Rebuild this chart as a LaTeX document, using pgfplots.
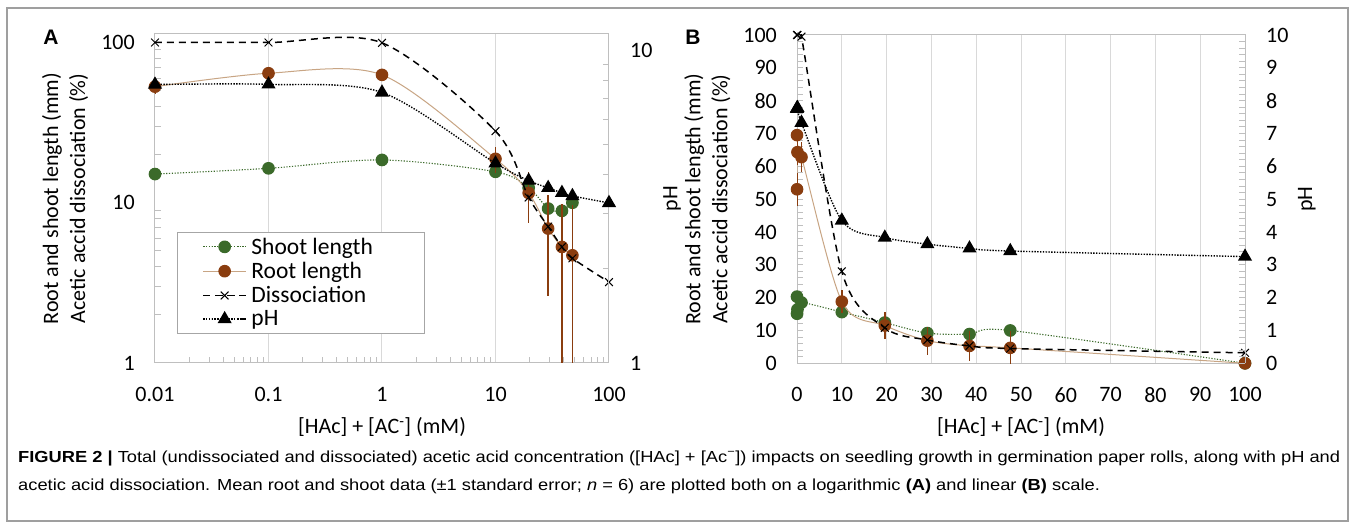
\documentclass[border=0pt]{standalone}
\usepackage{pgfplots}
\pgfplotsset{compat=1.18}
\usepackage{pgfplotstable}
\usepackage{graphicx}
\usepackage{fontspec}
\setmainfont{Carlito}
\newfontfamily\capfont{Liberation Sans}
\newfontfamily\panelfont{Liberation Sans}

\definecolor{shootc}{HTML}{3B6A2A}
\definecolor{rootc}{HTML}{8A3D0F}
\definecolor{rootl}{HTML}{C8A584}
\definecolor{axisc}{HTML}{BFBFBF}
\definecolor{gridc}{HTML}{D9D9D9}

% Panel A (log): lower root errors clipped to stay positive
\pgfplotstableread{
x     shoot se  root rp  rm
0.01  15.1 0.8 53.0 5.0 5.0
0.1   16.4 0.8 64.3 4.0 4.0
1     18.5 0.8 62.8 4.5 4.5
10    15.6 0.8 18.8 3.5 3.5
19.6  12.4 0.9 11.5 4.0 4.0
29.1   9.2 1.0  6.9 4.3 4.3
38.5   8.9 0.9  5.3 4.5 4.8
47.6  10.0 0.9  4.7 5.0 4.2
}\tabA
\pgfplotstableread{
x    dis  ph
0.01 100  7.77
0.1  100  7.78
1    99.5 7.33
10   28.0 4.35
19.6 10.8 3.83
29.1  7.1 3.63
38.5  5.3 3.50
47.6  4.5 3.42
100   3.2 3.25
}\chemA
% Panel B (linear)
\pgfplotstableread{
x     shoot se  root re
0     20.3 0.8 69.5 1.5
0.01  15.1 0.8 53.0 5.0
0.1   16.4 0.8 64.3 4.0
1     18.5 0.8 62.8 4.5
10    15.6 0.8 18.8 3.5
19.6  12.4 0.9 11.5 4.0
29.1   9.2 1.0  6.9 4.3
38.5   8.9 0.9  5.3 4.5
47.6  10.0 0.9  4.7 5.0
100    0.0 0.0  0.0 0.8
}\tabB
\pgfplotstableread{
x    dis  ph
0    100  7.75
0.01 100  7.77
0.1  100  7.78
1    99.5 7.33
10   28.0 4.35
19.6 10.8 3.83
29.1  7.1 3.63
38.5  5.3 3.50
47.6  4.5 3.42
100   3.2 3.25
}\chemB

\pgfplotsset{
  shootst/.style={shootc, dash pattern=on 1.2pt off 1.6pt, line width=1.1pt, smooth, mark=*, mark size=5.8pt, mark options={solid, fill=shootc, draw=shootc}},
  rootst/.style={rootl, solid, line width=1pt, smooth, mark=*, mark size=5.8pt, mark options={solid, fill=rootc, draw=rootc}},
  disst/.style={black, dash pattern=on 7pt off 5pt, line width=1.5pt, smooth, mark=x, mark size=5.5pt, mark options={solid, line width=1pt}},
  phst/.style={black, dash pattern=on 1.4pt off 1.4pt, line width=1.4pt, smooth, mark=triangle*, mark size=6.8pt, mark options={solid, fill=black}},
  base/.style={scale only axis, anchor=south west, clip mode=individual,
    /pgf/number format/assume math mode=true,
    axis line style={axisc, line width=1pt}, tick style={axisc, line width=1pt},
    major tick length=0pt, minor tick length=6pt, tick align=inside,
    ticklabel style={font=\fontsize{22}{26}\selectfont, inner sep=0pt, text=black},
    label style={font=\fontsize{22}{27}\selectfont, text=black},
    major grid style={gridc, line width=1pt}},
  legend image code/.code={\draw[mark repeat=2,mark phase=2,#1] plot coordinates {(0pt,0pt) (21.5pt,0pt) (43pt,0pt)};},
}
\newcommand\legtxt[1]{\makebox[146pt][l]{#1}}
\newsavebox\capboxA
\newdimen\capw

\begin{document}
\sbox\capboxA{\capfont\fontsize{16}{19}\selectfont\textbf{FIGURE 2 |} Total (undissociated and dissociated) acetic acid concentration ([HAc] + [Ac\textsuperscript{−}]) impacts on seedling growth in germination paper rolls, along with pH and}%
\capw=\wd\capboxA
\pgfmathsetmacro\capsc{1322pt/\capw}%
\begin{tikzpicture}
\useasboundingbox (0,0) rectangle (1355pt,527pt);
\fill[white] (0,0) rectangle (1355pt,527pt);
\draw[gray!75, line width=1.3pt] (7pt,6pt) rectangle (1348pt,519pt);

% ---------------- Panel A ----------------
\begin{axis}[base, at={(155pt,164pt)}, width=454pt, height=329pt,
  xmode=log, ymode=log, xmin=0.01, xmax=100, ymin=1, ymax=113,
  xtick={0.01,0.1,1,10,100}, xticklabels={0.01,0.1,1,10,100},
  minor xtick={0.02,0.03,0.04,0.05,0.06,0.07,0.08,0.09,0.2,0.3,0.4,0.5,0.6,0.7,0.8,0.9,2,3,4,5,6,7,8,9,20,30,40,50,60,70,80,90},
  ytick={1,10,100}, yticklabels={1,10,100},
  minor ytick={2,3,4,5,6,7,8,9,20,30,40,50,60,70,80,90},
  xmajorgrids, tick pos=left,
  xticklabel style={anchor=north, yshift=-24pt},
  yticklabel style={anchor=east, xshift=-20pt},
  ylabel={Root and shoot length (mm)\\Acetic accid dissociation (\%)},
  ylabel style={at={(axis description cs:-0.198,0.5)}, anchor=center, align=center},
  xlabel={[HAc] + [AC\textsuperscript{-}] (mM)},
  xlabel style={at={(axis description cs:0.5,-0.195)}, anchor=center},
]
\addplot[shootst, error bars/.cd, y dir=both, y explicit, error mark=none, error bar style={shootc, line width=1.2pt, solid}]
  table[x=x, y=shoot, y error=se] {\tabA};
\addplot[rootst, error bars/.cd, y dir=both, y explicit, error mark=none, error bar style={rootc, line width=1.4pt, solid}]
  table[x=x, y=root, y error plus=rp, y error minus=rm] {\tabA};
\addplot[disst] table[x=x, y=dis] {\chemA};
\end{axis}
\begin{axis}[base, at={(155pt,164pt)}, width=454pt, height=329pt,
  xmode=log, ymode=log, xmin=0.01, xmax=100, ymin=1, ymax=11.27,
  axis x line=none, axis y line*=right,
  ytick={1,10}, yticklabels={1,10}, minor ytick={2,3,4,5,6,7,8,9},
  yticklabel style={anchor=west, xshift=21pt},
  ylabel={pH}, ylabel style={at={(axis description cs:1.139,0.5)}, anchor=center},
  legend style={at={(0.0485,0.398)}, anchor=north west, draw=gray!70, line width=0.8pt, fill=white,
    font=\fontsize{23.5}{27}\selectfont, row sep=3.5pt, column sep=3pt, inner xsep=25pt, inner ysep=4pt,
    nodes={inner sep=1.5pt}},
  legend cell align=left,
]
\addlegendimage{shootst}\addlegendentry{\legtxt{Shoot length}}
\addlegendimage{rootst}\addlegendentry{\legtxt{Root length}}
\addlegendimage{disst}\addlegendentry{\legtxt{Dissociation}}
\addplot[phst] table[x=x, y=ph] {\chemA};
\addlegendentry{\legtxt{pH}}
\end{axis}
\node[anchor=center, font=\panelfont\bfseries\fontsize{21}{21}\selectfont] at (51pt,490pt) {A};

% ---------------- Panel B ----------------
\begin{axis}[base, at={(797pt,163.7pt)}, width=448pt, height=328.3pt,
  xmin=0, xmax=100, ymin=0, ymax=100,
  xtick={0,10,...,100}, ytick={0,10,...,100}, minor y tick num=4,
  major tick length=6pt, xtick style={draw=none},
  xmajorgrids, tick pos=left,
  xticklabel style={anchor=north, yshift=-24pt},
  yticklabel style={anchor=east, xshift=-20pt},
  ylabel={Root and shoot length (mm)\\Acetic accid dissociation (\%)},
  ylabel style={at={(axis description cs:-0.2,0.5)}, anchor=center, align=center},
  xlabel={[HAc] + [AC\textsuperscript{-}] (mM)},
  xlabel style={at={(axis description cs:0.5,-0.195)}, anchor=center},
]
\addplot[shootst, error bars/.cd, y dir=both, y explicit, error mark=none, error bar style={shootc, line width=1.2pt, solid}]
  table[x=x, y=shoot, y error=se] {\tabB};
\addplot[rootst, error bars/.cd, y dir=both, y explicit, error mark=none, error bar style={rootc, line width=1.4pt, solid}]
  table[x=x, y=root, y error=re] {\tabB};
\addplot[disst] table[x=x, y=dis] {\chemB};
\end{axis}
\begin{axis}[base, at={(797pt,163.7pt)}, width=448pt, height=328.3pt,
  xmin=0, xmax=100, ymin=0, ymax=10,
  axis x line=none, axis y line*=right,
  ytick={0,1,...,10}, minor y tick num=4, major tick length=6pt,
  yticklabel style={anchor=west, xshift=21pt},
  ylabel={pH}, ylabel style={at={(axis description cs:1.138,0.5)}, anchor=center},
]
\addplot[phst] table[x=x, y=ph] {\chemB};
\end{axis}
\node[anchor=center, font=\panelfont\bfseries\fontsize{21}{21}\selectfont] at (693pt,490pt) {B};

% ---------------- Caption ----------------
\node[anchor=west, inner sep=0pt] at (18pt,69pt) {\scalebox{\capsc}[1]{\usebox\capboxA}};
\node[anchor=west, inner sep=0pt] at (18pt,41pt) {\scalebox{\capsc}[1]{\capfont\fontsize{16}{19}\selectfont acetic acid dissociation. Mean root and shoot data (±1 standard error; \textit{n} = 6) are plotted both on a logarithmic \textbf{(A)} and linear \textbf{(B)} scale.}};
\end{tikzpicture}
\end{document}
